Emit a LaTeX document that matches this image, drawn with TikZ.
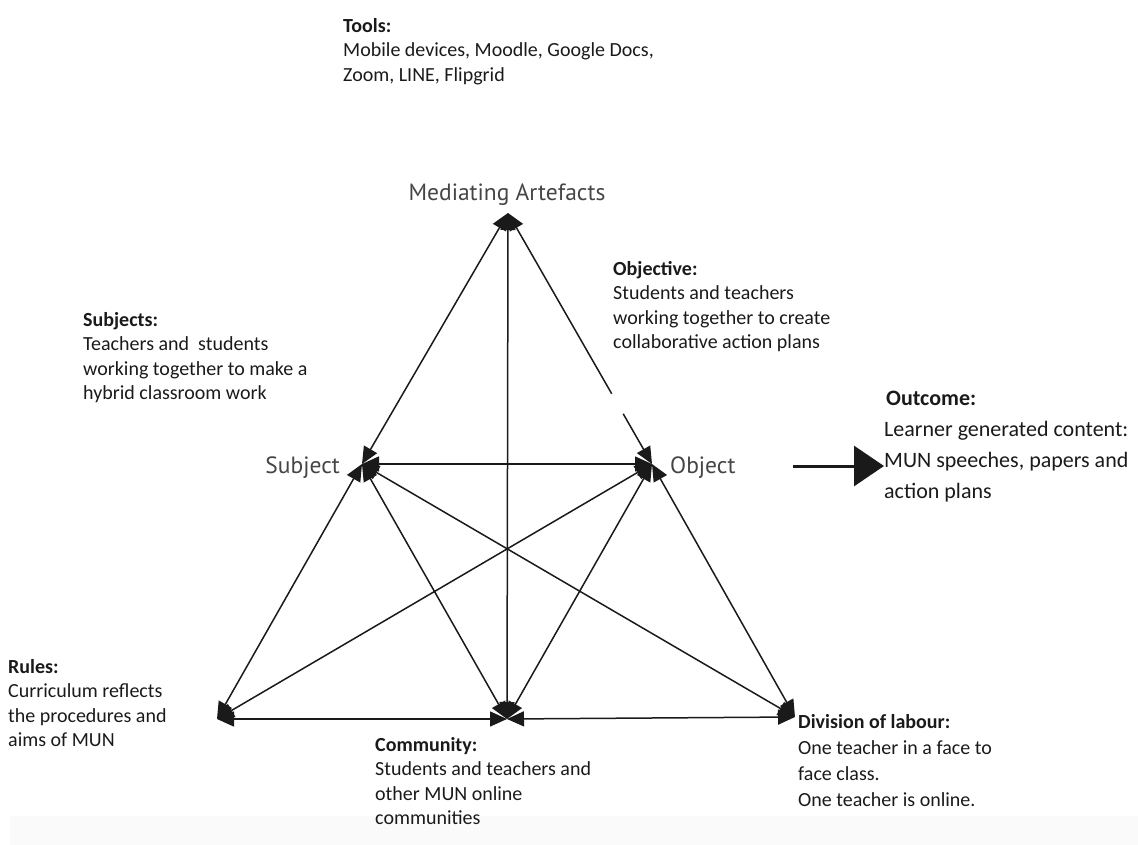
\documentclass[tikz,border=0pt]{standalone}
\usepackage{fontspec}
\setmainfont{Carlito}
\newfontfamily\labfont{PT Sans}
\usetikzlibrary{arrows.meta,calc}
\definecolor{ink}{HTML}{1A1A1A}
\definecolor{labgray}{HTML}{454545}
\definecolor{band}{HTML}{FAFAFA}
\begin{document}
\begin{tikzpicture}[x=1pt,y=-1pt,
  conn/.style={line width=1.5pt, draw=ink, {Triangle[length=17pt,width=15pt]}-{Triangle[length=17pt,width=15pt]}},
  half/.style={line width=1.5pt, draw=ink},
  txt/.style={anchor=north west, inner sep=0pt, align=left, text=ink, font=\fontsize{20}{24.5}\selectfont},
  lab/.style={inner sep=0pt, text=labgray, font=\labfont\fontsize{23.5}{28}\selectfont}]
\useasboundingbox (0,0) rectangle (1138,845);
\fill[band] (10,816) rectangle (1138,845);

% vertices
\coordinate (A) at (508,213);
\coordinate (S) at (362,464);
\coordinate (O) at (652,464);
\coordinate (BL) at (217,719);
\coordinate (BM) at (507,719);
\coordinate (BR) at (795,717);

% connectors
\draw[conn] (A) -- (S);
\draw[half, {Triangle[length=17pt,width=15pt]}-] (A) -- ($(A)!0.72!(O)$);
\draw[half, -{Triangle[length=17pt,width=15pt]}] ($(A)!0.80!(O)$) -- (O);
\draw[conn] (A) -- (BM);
\draw[conn] (S) -- (O);
\draw[conn] (S) -- (BL);
\draw[conn] (S) -- (BM);
\draw[conn] (S) -- (BR);
\draw[conn] (O) -- (BL);
\draw[conn] (O) -- (BM);
\draw[conn] (O) -- (BR);
\draw[conn] (BL) -- (BM);
\draw[conn] (BM) -- (BR);

% vertex labels
\node[lab, anchor=base] (medlab) at (507,201) {Mediating Artefacts};
\node[lab, anchor=base east] (sublab) at (340,473) {Subject};
\node[lab, anchor=base west] (objlab) at (670,473) {Object};

% outcome arrow
\coordinate (outS) at (793,466);
\coordinate (outE) at (884,466);
\draw[line width=3pt, draw=ink, -{Triangle[length=30pt,width=40pt]}] (outS) -- (outE);

% text blocks
\node[txt] (tools) at (343,18) {\textbf{Tools:}\\Mobile devices, Moodle, Google Docs,\\Zoom, LINE, Flipgrid};
\node[txt] (subjects) at (83,312) {\textbf{Subjects:}\\Teachers and\ \ students\\working together to make a\\hybrid classroom work};
\node[txt] (objective) at (613,261) {\textbf{Objective:}\\Students and teachers\\working together to create\\collaborative action plans};
\node[txt, font=\fontsize{22}{31}\selectfont] (outcome) at (884,391) {\hspace*{2pt}\textbf{Outcome:}\\Learner generated content:\\MUN speeches, papers and\\action plans};
\node[txt] (rules) at (8,659) {\textbf{Rules:}\\Curriculum reflects\\the procedures and\\aims of MUN};
\node[txt] (community) at (375,737) {\textbf{Community:}\\Students and teachers and\\other MUN online\\communities};
\node[txt, font=\fontsize{20}{26}\selectfont] (division) at (798,714) {\textbf{Division of labour:}\\One teacher in a face to\\face class.\\One teacher is online.};
\end{tikzpicture}
\end{document}
